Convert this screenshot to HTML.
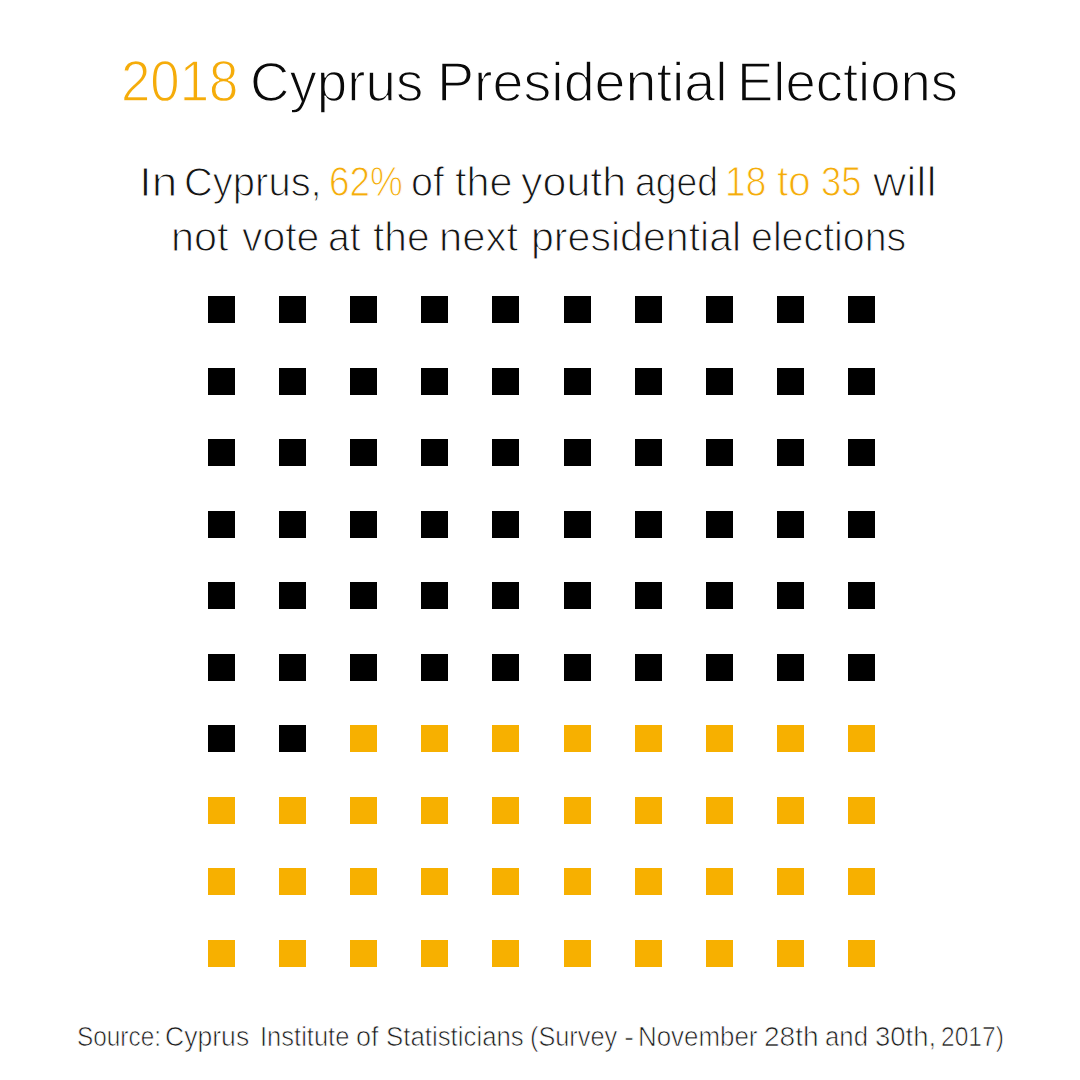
<!DOCTYPE html>
<html><head><meta charset="utf-8"><style>
html,body{margin:0;padding:0;background:#fff;width:1080px;height:1080px;overflow:hidden;position:relative}
.s{position:absolute;width:27px;height:27px}
.w{position:absolute;white-space:nowrap;line-height:120px;height:120px;transform-origin:0 0;}
</style></head><body>
<div class="w" style="left:121.22px;top:20.70px;font-family:'Liberation Sans',sans-serif;font-size:57px;color:#f5ac0a;transform:scaleX(0.9256);-webkit-text-stroke:1.3px #fff">2018</div><div class="w" style="left:250.07px;top:21.70px;font-family:'Liberation Sans',sans-serif;font-size:56px;color:#0a0a0a;transform:scaleX(0.9769);-webkit-text-stroke:1.45px #fff">Cyprus</div><div class="w" style="left:437.03px;top:21.70px;font-family:'Liberation Sans',sans-serif;font-size:56px;color:#0a0a0a;transform:scaleX(0.9930);-webkit-text-stroke:1.45px #fff">Presidential</div><div class="w" style="left:737.11px;top:21.70px;font-family:'Liberation Sans',sans-serif;font-size:56px;color:#0a0a0a;transform:scaleX(0.9729);-webkit-text-stroke:1.45px #fff">Elections</div><div class="w" style="left:139.25px;top:121.90px;font-family:'Liberation Sans',sans-serif;font-size:41px;color:#141414;transform:scaleX(1.1200);-webkit-text-stroke:1.1px #fff">In</div><div class="w" style="left:184.45px;top:121.90px;font-family:'Liberation Sans',sans-serif;font-size:41px;color:#141414;transform:scaleX(0.9750);-webkit-text-stroke:1.1px #fff">Cyprus,</div><div class="w" style="left:329.25px;top:121.90px;font-family:'Liberation Sans',sans-serif;font-size:42px;color:#f5ac0a;transform:scaleX(0.8765);-webkit-text-stroke:1.0px #fff">62%</div><div class="w" style="left:410.94px;top:121.90px;font-family:'Liberation Sans',sans-serif;font-size:41px;color:#141414;transform:scaleX(0.9647);-webkit-text-stroke:1.1px #fff">of</div><div class="w" style="left:455.10px;top:121.90px;font-family:'Liberation Sans',sans-serif;font-size:41px;color:#141414;transform:scaleX(1.0071);-webkit-text-stroke:1.1px #fff">the</div><div class="w" style="left:521.20px;top:121.90px;font-family:'Liberation Sans',sans-serif;font-size:41px;color:#141414;transform:scaleX(1.0490);-webkit-text-stroke:1.1px #fff">youth</div><div class="w" style="left:635.09px;top:121.90px;font-family:'Liberation Sans',sans-serif;font-size:41px;color:#141414;transform:scaleX(0.9091);-webkit-text-stroke:1.1px #fff">aged</div><div class="w" style="left:725.45px;top:121.90px;font-family:'Liberation Sans',sans-serif;font-size:42px;color:#f5ac0a;transform:scaleX(0.8833);-webkit-text-stroke:1.0px #fff">18</div><div class="w" style="left:777.00px;top:121.90px;font-family:'Liberation Sans',sans-serif;font-size:42px;color:#f5ac0a;transform:scaleX(0.9588);-webkit-text-stroke:1.0px #fff">to</div><div class="w" style="left:821.03px;top:121.90px;font-family:'Liberation Sans',sans-serif;font-size:42px;color:#f5ac0a;transform:scaleX(0.8659);-webkit-text-stroke:1.0px #fff">35</div><div class="w" style="left:873.20px;top:121.90px;font-family:'Liberation Sans',sans-serif;font-size:41px;color:#141414;transform:scaleX(1.1200);-webkit-text-stroke:1.1px #fff">will</div><div class="w" style="left:170.98px;top:176.50px;font-family:'Liberation Sans',sans-serif;font-size:41px;color:#141414;transform:scaleX(1.0091);-webkit-text-stroke:1.1px #fff">not</div><div class="w" style="left:241.50px;top:176.50px;font-family:'Liberation Sans',sans-serif;font-size:41px;color:#141414;transform:scaleX(0.9987);-webkit-text-stroke:1.1px #fff">vote</div><div class="w" style="left:327.55px;top:176.50px;font-family:'Liberation Sans',sans-serif;font-size:41px;color:#141414;transform:scaleX(0.9545);-webkit-text-stroke:1.1px #fff">at</div><div class="w" style="left:373.00px;top:176.50px;font-family:'Liberation Sans',sans-serif;font-size:41px;color:#141414;transform:scaleX(0.9911);-webkit-text-stroke:1.1px #fff">the</div><div class="w" style="left:439.46px;top:176.50px;font-family:'Liberation Sans',sans-serif;font-size:41px;color:#141414;transform:scaleX(1.0197);-webkit-text-stroke:1.1px #fff">next</div><div class="w" style="left:531.00px;top:176.50px;font-family:'Liberation Sans',sans-serif;font-size:41px;color:#141414;transform:scaleX(1.0024);-webkit-text-stroke:1.1px #fff">presidential</div><div class="w" style="left:750.54px;top:176.50px;font-family:'Liberation Sans',sans-serif;font-size:41px;color:#141414;transform:scaleX(0.9594);-webkit-text-stroke:1.1px #fff">elections</div><div class="w" style="left:76.90px;top:976.90px;font-family:'Liberation Sans',sans-serif;font-size:27px;color:#1c1c1c;transform:scaleX(0.9022);-webkit-text-stroke:0.7px #fff">Source:</div><div class="w" style="left:164.72px;top:976.90px;font-family:'Liberation Sans',sans-serif;font-size:27px;color:#1c1c1c;transform:scaleX(0.9845);-webkit-text-stroke:0.7px #fff">Cyprus</div><div class="w" style="left:259.61px;top:976.90px;font-family:'Liberation Sans',sans-serif;font-size:27px;color:#1c1c1c;transform:scaleX(0.9457);-webkit-text-stroke:0.7px #fff">Institute</div><div class="w" style="left:356.00px;top:976.90px;font-family:'Liberation Sans',sans-serif;font-size:27px;color:#1c1c1c;transform:scaleX(1.0000);-webkit-text-stroke:0.7px #fff">of</div><div class="w" style="left:385.84px;top:976.90px;font-family:'Liberation Sans',sans-serif;font-size:27px;color:#1c1c1c;transform:scaleX(0.9563);-webkit-text-stroke:0.7px #fff">Statisticians</div><div class="w" style="left:530.36px;top:976.90px;font-family:'Liberation Sans',sans-serif;font-size:27px;color:#1c1c1c;transform:scaleX(0.9370);-webkit-text-stroke:0.7px #fff">(Survey</div><div class="w" style="left:623.96px;top:976.90px;font-family:'Liberation Sans',sans-serif;font-size:27px;color:#1c1c1c;transform:scaleX(1.1200);-webkit-text-stroke:0.7px #fff">-</div><div class="w" style="left:638.08px;top:976.90px;font-family:'Liberation Sans',sans-serif;font-size:27px;color:#1c1c1c;transform:scaleX(0.9590);-webkit-text-stroke:0.7px #fff">November</div><div class="w" style="left:763.96px;top:976.90px;font-family:'Liberation Sans',sans-serif;font-size:27px;color:#1c1c1c;transform:scaleX(1.0400);-webkit-text-stroke:0.7px #fff">28th</div><div class="w" style="left:825.05px;top:976.90px;font-family:'Liberation Sans',sans-serif;font-size:27px;color:#1c1c1c;transform:scaleX(0.9535);-webkit-text-stroke:0.7px #fff">and</div><div class="w" style="left:874.98px;top:976.90px;font-family:'Liberation Sans',sans-serif;font-size:27px;color:#1c1c1c;transform:scaleX(1.0175);-webkit-text-stroke:0.7px #fff">30th,</div><div class="w" style="left:941.09px;top:976.90px;font-family:'Liberation Sans',sans-serif;font-size:27px;color:#1c1c1c;transform:scaleX(0.9104);-webkit-text-stroke:0.7px #fff">2017)</div>
<div class="s" style="left:208.0px;top:296.0px;background:#000"></div><div class="s" style="left:279.1px;top:296.0px;background:#000"></div><div class="s" style="left:350.2px;top:296.0px;background:#000"></div><div class="s" style="left:421.3px;top:296.0px;background:#000"></div><div class="s" style="left:492.4px;top:296.0px;background:#000"></div><div class="s" style="left:563.5px;top:296.0px;background:#000"></div><div class="s" style="left:634.6px;top:296.0px;background:#000"></div><div class="s" style="left:705.7px;top:296.0px;background:#000"></div><div class="s" style="left:776.8px;top:296.0px;background:#000"></div><div class="s" style="left:847.9px;top:296.0px;background:#000"></div><div class="s" style="left:208.0px;top:367.6px;background:#000"></div><div class="s" style="left:279.1px;top:367.6px;background:#000"></div><div class="s" style="left:350.2px;top:367.6px;background:#000"></div><div class="s" style="left:421.3px;top:367.6px;background:#000"></div><div class="s" style="left:492.4px;top:367.6px;background:#000"></div><div class="s" style="left:563.5px;top:367.6px;background:#000"></div><div class="s" style="left:634.6px;top:367.6px;background:#000"></div><div class="s" style="left:705.7px;top:367.6px;background:#000"></div><div class="s" style="left:776.8px;top:367.6px;background:#000"></div><div class="s" style="left:847.9px;top:367.6px;background:#000"></div><div class="s" style="left:208.0px;top:439.1px;background:#000"></div><div class="s" style="left:279.1px;top:439.1px;background:#000"></div><div class="s" style="left:350.2px;top:439.1px;background:#000"></div><div class="s" style="left:421.3px;top:439.1px;background:#000"></div><div class="s" style="left:492.4px;top:439.1px;background:#000"></div><div class="s" style="left:563.5px;top:439.1px;background:#000"></div><div class="s" style="left:634.6px;top:439.1px;background:#000"></div><div class="s" style="left:705.7px;top:439.1px;background:#000"></div><div class="s" style="left:776.8px;top:439.1px;background:#000"></div><div class="s" style="left:847.9px;top:439.1px;background:#000"></div><div class="s" style="left:208.0px;top:510.6px;background:#000"></div><div class="s" style="left:279.1px;top:510.6px;background:#000"></div><div class="s" style="left:350.2px;top:510.6px;background:#000"></div><div class="s" style="left:421.3px;top:510.6px;background:#000"></div><div class="s" style="left:492.4px;top:510.6px;background:#000"></div><div class="s" style="left:563.5px;top:510.6px;background:#000"></div><div class="s" style="left:634.6px;top:510.6px;background:#000"></div><div class="s" style="left:705.7px;top:510.6px;background:#000"></div><div class="s" style="left:776.8px;top:510.6px;background:#000"></div><div class="s" style="left:847.9px;top:510.6px;background:#000"></div><div class="s" style="left:208.0px;top:582.2px;background:#000"></div><div class="s" style="left:279.1px;top:582.2px;background:#000"></div><div class="s" style="left:350.2px;top:582.2px;background:#000"></div><div class="s" style="left:421.3px;top:582.2px;background:#000"></div><div class="s" style="left:492.4px;top:582.2px;background:#000"></div><div class="s" style="left:563.5px;top:582.2px;background:#000"></div><div class="s" style="left:634.6px;top:582.2px;background:#000"></div><div class="s" style="left:705.7px;top:582.2px;background:#000"></div><div class="s" style="left:776.8px;top:582.2px;background:#000"></div><div class="s" style="left:847.9px;top:582.2px;background:#000"></div><div class="s" style="left:208.0px;top:653.8px;background:#000"></div><div class="s" style="left:279.1px;top:653.8px;background:#000"></div><div class="s" style="left:350.2px;top:653.8px;background:#000"></div><div class="s" style="left:421.3px;top:653.8px;background:#000"></div><div class="s" style="left:492.4px;top:653.8px;background:#000"></div><div class="s" style="left:563.5px;top:653.8px;background:#000"></div><div class="s" style="left:634.6px;top:653.8px;background:#000"></div><div class="s" style="left:705.7px;top:653.8px;background:#000"></div><div class="s" style="left:776.8px;top:653.8px;background:#000"></div><div class="s" style="left:847.9px;top:653.8px;background:#000"></div><div class="s" style="left:208.0px;top:725.3px;background:#000"></div><div class="s" style="left:279.1px;top:725.3px;background:#000"></div><div class="s" style="left:350.2px;top:725.3px;background:#f7b000"></div><div class="s" style="left:421.3px;top:725.3px;background:#f7b000"></div><div class="s" style="left:492.4px;top:725.3px;background:#f7b000"></div><div class="s" style="left:563.5px;top:725.3px;background:#f7b000"></div><div class="s" style="left:634.6px;top:725.3px;background:#f7b000"></div><div class="s" style="left:705.7px;top:725.3px;background:#f7b000"></div><div class="s" style="left:776.8px;top:725.3px;background:#f7b000"></div><div class="s" style="left:847.9px;top:725.3px;background:#f7b000"></div><div class="s" style="left:208.0px;top:796.8px;background:#f7b000"></div><div class="s" style="left:279.1px;top:796.8px;background:#f7b000"></div><div class="s" style="left:350.2px;top:796.8px;background:#f7b000"></div><div class="s" style="left:421.3px;top:796.8px;background:#f7b000"></div><div class="s" style="left:492.4px;top:796.8px;background:#f7b000"></div><div class="s" style="left:563.5px;top:796.8px;background:#f7b000"></div><div class="s" style="left:634.6px;top:796.8px;background:#f7b000"></div><div class="s" style="left:705.7px;top:796.8px;background:#f7b000"></div><div class="s" style="left:776.8px;top:796.8px;background:#f7b000"></div><div class="s" style="left:847.9px;top:796.8px;background:#f7b000"></div><div class="s" style="left:208.0px;top:868.4px;background:#f7b000"></div><div class="s" style="left:279.1px;top:868.4px;background:#f7b000"></div><div class="s" style="left:350.2px;top:868.4px;background:#f7b000"></div><div class="s" style="left:421.3px;top:868.4px;background:#f7b000"></div><div class="s" style="left:492.4px;top:868.4px;background:#f7b000"></div><div class="s" style="left:563.5px;top:868.4px;background:#f7b000"></div><div class="s" style="left:634.6px;top:868.4px;background:#f7b000"></div><div class="s" style="left:705.7px;top:868.4px;background:#f7b000"></div><div class="s" style="left:776.8px;top:868.4px;background:#f7b000"></div><div class="s" style="left:847.9px;top:868.4px;background:#f7b000"></div><div class="s" style="left:208.0px;top:939.9px;background:#f7b000"></div><div class="s" style="left:279.1px;top:939.9px;background:#f7b000"></div><div class="s" style="left:350.2px;top:939.9px;background:#f7b000"></div><div class="s" style="left:421.3px;top:939.9px;background:#f7b000"></div><div class="s" style="left:492.4px;top:939.9px;background:#f7b000"></div><div class="s" style="left:563.5px;top:939.9px;background:#f7b000"></div><div class="s" style="left:634.6px;top:939.9px;background:#f7b000"></div><div class="s" style="left:705.7px;top:939.9px;background:#f7b000"></div><div class="s" style="left:776.8px;top:939.9px;background:#f7b000"></div><div class="s" style="left:847.9px;top:939.9px;background:#f7b000"></div>
</body></html>
